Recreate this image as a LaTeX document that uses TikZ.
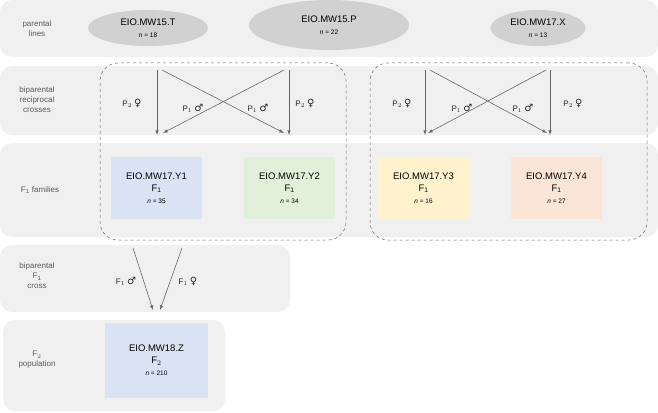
\documentclass[tikz,border=0pt]{standalone}
\usepackage{fontspec}
\usetikzlibrary{shapes.geometric}
\setmainfont{Liberation Sans}
\newfontfamily\symf{DejaVu Sans}
\newcommand{\fem}{{\symf\fontsize{10}{10}\selectfont ♀}}
\newcommand{\mal}{{\symf\fontsize{10}{10}\selectfont ♂}}
\newcommand{\nn}[1]{{\fontsize{6.5}{8}\selectfont\itshape n\upshape{} = #1}}
\begin{document}
\begin{tikzpicture}[x=1pt,y=-1pt,
  band/.style={fill=black!6,rounded corners=12pt,draw=none},
  ell/.style={ellipse,fill=black!18,draw=none,align=center,font=\fontsize{9.5}{11}\selectfont,inner sep=0pt},
  box/.style={draw=none,align=center,minimum width=91pt,minimum height=62pt,font=\fontsize{9.5}{12}\selectfont},
  row/.style={align=center,text=black!65,font=\fontsize{8}{10}\selectfont},
  arr/.style={draw=black!60,-latex,line width=0.6pt},
  lab/.style={font=\fontsize{8}{9}\selectfont,text=black!85},
  dgrp/.style={draw=black!60,dashed,rounded corners=18pt,line width=0.5pt}]
\useasboundingbox (0,0) rectangle (658,412);
\fill[white] (0,0) rectangle (658,412);
\path[band] (0,0) rectangle (658,57);
\path[band] (0,66) rectangle (658,135);
\path[band] (0,143) rectangle (658,237);
\path[band] (0,245) rectangle (290,312);
\path[band] (3,320) rectangle (225,411);
\node[row] (r1) at (37,29) {parental\\lines};
\node[row] (r2) at (37,100) {biparental\\reciprocal\\crosses};
\node[row] (r3) at (40,190) {F$_\mathrm{1}$ families};
\node[row] (r4) at (37,276) {biparental\\F$_\mathrm{1}$\\cross};
\node[row] (r5) at (37,360) {F$_2$\\population};
\node[ell,minimum width=120pt,minimum height=36pt] (T) at (148,28) {EIO.MW15.T\\[1pt]\nn{18}};
\node[ell,minimum width=160pt,minimum height=50pt] (P) at (329,25) {EIO.MW15.P\\[1pt]\nn{22}};
\node[ell,minimum width=95pt,minimum height=36pt] (X) at (538,28) {EIO.MW17.X\\[1pt]\nn{13}};
\node[dgrp,minimum width=246pt,minimum height=177pt] (g1) at (223,151.5) {};
\node[dgrp,minimum width=277pt,minimum height=177pt] (g2) at (508.5,151.5) {};
\node[box,fill={rgb,255:red,218;green,227;blue,243}] (Y1) at (156.5,188) {EIO.MW17.Y1\\F$_\mathrm{1}$\\\nn{35}};
\node[box,fill={rgb,255:red,226;green,240;blue,217}] (Y2) at (289.5,188) {EIO.MW17.Y2\\F$_\mathrm{1}$\\\nn{34}};
\node[box,fill={rgb,255:red,255;green,242;blue,204}] (Y3) at (423.5,188) {EIO.MW17.Y3\\F$_\mathrm{1}$\\\nn{16}};
\node[box,fill={rgb,255:red,251;green,229;blue,214}] (Y4) at (556.5,188) {EIO.MW17.Y4\\F$_\mathrm{1}$\\\nn{27}};
\node[box,minimum width=103pt,minimum height=75pt,fill={rgb,255:red,218;green,227;blue,243}] (Z) at (156.5,360.5) {EIO.MW18.Z\\F$_2$\\\nn{210}};
\coordinate (a1) at (157,70); \coordinate (a2) at (157,135);
\coordinate (b1) at (289,70); \coordinate (b2) at (289,135);
\coordinate (c1) at (162,70); \coordinate (c2) at (284,133);
\coordinate (d1) at (284,70); \coordinate (d2) at (163,133);
\draw[arr] (a1)--(a2); \draw[arr] (b1)--(b2); \draw[arr] (c1)--(c2); \draw[arr] (d1)--(d2);
\coordinate (e1) at (425,70); \coordinate (e2) at (425,135);
\coordinate (f1) at (550,70); \coordinate (f2) at (550,135);
\coordinate (g1a) at (430,70); \coordinate (g2a) at (547,133);
\coordinate (h1) at (546,70); \coordinate (h2) at (428,133);
\draw[arr] (e1)--(e2); \draw[arr] (f1)--(f2); \draw[arr] (g1a)--(g2a); \draw[arr] (h1)--(h2);
\node[lab] (l1) at (132,103) {P$_2$ \fem};
\node[lab] (l2) at (193,108) {P$_1$ \mal};
\node[lab] (l3) at (258,108) {P$_1$ \mal};
\node[lab] (l4) at (305,103) {P$_2$ \fem};
\node[lab] (l5) at (402,103) {P$_2$ \fem};
\node[lab] (l6) at (462,108) {P$_1$ \mal};
\node[lab] (l7) at (523,108) {P$_1$ \mal};
\node[lab] (l8) at (573,103) {P$_2$ \fem};
\coordinate (m1) at (133,248); \coordinate (m2) at (153,310);
\coordinate (n1) at (182,248); \coordinate (n2) at (160,310);
\draw[arr] (m1)--(m2); \draw[arr] (n1)--(n2);
\node[lab] (l9) at (126,281) {F$_1$ \mal};
\node[lab] (l10) at (188,281) {F$_1$ \fem};
\end{tikzpicture}
\end{document}
